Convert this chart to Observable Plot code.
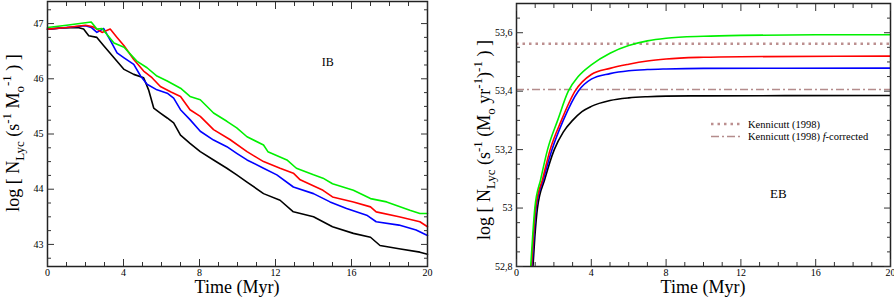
<!DOCTYPE html>
<html><head><meta charset="utf-8">
<script src="https://cdn.jsdelivr.net/npm/d3@7"></script>
<script src="https://cdn.jsdelivr.net/npm/@observablehq/plot@0.6"></script>
<style>
body{margin:0;background:#fff;}
#wrap{display:flex;width:894px;height:298px;overflow:hidden;background:#fff;}
#wrap svg{display:block;}
#wrap svg text, #wrap svg tspan{font-family:"Liberation Serif","DejaVu Serif","Times New Roman",Times,serif !important;}
</style></head><body><div id="wrap"></div>
<script>
const SERIF = "Liberation Serif, DejaVu Serif, Times New Roman, serif";

// Series colours
const seriesColors = {black: "#000000", blue: "#0000ff", red: "#ff0000", green: "#00f000"};

// ---------- IB panel (log N_Lyc per unit mass vs time) ----------
const ibBlack = [[0,46.9],[0.8,46.92],[1.6,46.93],[1.9,46.9],[2.17,46.78],[2.6,46.75],[2.96,46.6],[3.5,46.38],[4.03,46.17],[4.54,46.08],[5.06,46.02],[5.32,45.8],[5.59,45.47],[5.94,45.38],[6.3,45.29],[6.64,45.2],[7.0,44.98],[7.5,44.83],[8.04,44.68],[8.74,44.53],[9.44,44.38],[9.96,44.26],[10.5,44.13],[11.37,43.92],[12.24,43.8],[12.94,43.59],[14.0,43.5],[15.0,43.32],[16.1,43.2],[17.0,43.13],[17.5,42.98],[18.5,42.92],[19.6,42.86],[20,42.82]];
const ibBlue = [[0,46.9],[1.0,46.93],[2.0,46.96],[2.3,46.93],[2.6,46.84],[2.96,46.91],[3.3,46.7],[3.66,46.47],[4.03,46.38],[4.54,46.26],[4.9,46.05],[5.24,45.9],[5.76,45.8],[6.3,45.74],[6.64,45.65],[7.0,45.44],[7.5,45.26],[8.04,45.05],[8.74,44.89],[9.44,44.77],[9.96,44.65],[10.5,44.53],[11.37,44.38],[12.07,44.26],[12.94,44.04],[14.0,43.92],[14.87,43.77],[15.74,43.65],[16.8,43.53],[17.3,43.41],[18.5,43.35],[19.4,43.26],[20,43.16]];
const ibRed = [[0,46.9],[1.0,46.93],[2.0,46.97],[2.4,46.94],[2.87,46.84],[3.3,46.9],[3.66,46.75],[4.03,46.6],[4.54,46.35],[5.06,46.14],[5.5,46.02],[5.94,45.86],[6.5,45.76],[7.0,45.68],[7.5,45.44],[8.04,45.32],[8.74,45.08],[9.6,44.9],[10.5,44.68],[11.37,44.5],[12.24,44.38],[12.94,44.29],[13.3,44.17],[14.5,43.98],[15.0,43.86],[16.1,43.77],[17.0,43.68],[17.3,43.59],[18.5,43.5],[19.6,43.41],[20,43.32]];
const ibGreen = [[0,46.93],[1.0,46.97],[2.3,47.03],[2.6,46.9],[2.87,46.91],[3.5,46.65],[4.03,46.57],[4.7,46.32],[5.24,46.2],[5.76,46.05],[6.3,45.96],[7.0,45.83],[7.5,45.68],[8.04,45.62],[8.74,45.38],[9.44,45.23],[9.96,45.11],[10.5,44.95],[11.37,44.8],[11.6,44.68],[12.6,44.53],[13.1,44.38],[14.0,44.26],[14.5,44.2],[15.0,44.1],[16.1,43.98],[17.0,43.83],[17.85,43.77],[19.07,43.62],[19.6,43.56],[20,43.56]];

// ---------- EB panel (log N_Lyc per unit SFR vs time) ----------
const ebGreen = [[0.76,52.8],[0.86,52.9],[0.98,53.0],[1.3,53.1],[1.66,53.2],[2.2,53.3],[2.77,53.4],[3.3,53.45],[4,53.49],[5,53.53],[6,53.556],[7,53.572],[8,53.581],[10,53.588],[12,53.591],[16,53.593],[20,53.593]];
const ebRed = [[0.8,52.8],[0.9,52.9],[1.02,53.0],[1.4,53.1],[1.8,53.2],[2.4,53.3],[3.13,53.4],[4,53.457],[5,53.478],[6,53.492],[7,53.503],[8,53.51],[10,53.516],[12,53.518],[20,53.52]];
const ebBlue = [[0.83,52.8],[0.93,52.9],[1.05,53.0],[1.45,53.1],[1.9,53.2],[2.5,53.3],[3.3,53.4],[4,53.441],[5,53.46],[6,53.47],[7,53.474],[8,53.476],[10,53.478],[20,53.479]];
const ebBlack = [[0.88,52.8],[0.98,52.9],[1.12,53.0],[1.52,53.1],[2.02,53.2],[2.5,53.26],[3.0,53.3],[3.5,53.33],[4,53.348],[5,53.368],[6,53.377],[7,53.381],[8,53.383],[10,53.384],[20,53.385]];

// Reference levels (Kennicutt 1998)
const kennicutt = [53.562];
const kennicuttF = [53.406];

// Annotations
const ibNote = [{t: 14.75, v: 46.31, label: "IB"}];
const ebNote = [{t: 14.0, v: 53.05, label: "EB"}];

// Ticks
const xMajor = [0, 4, 8, 12, 16, 20];
const xMinor = d3.range(0, 21, 1).filter(d => d % 4 !== 0);
const ibYMajor = [43, 44, 45, 46, 47];
const ibYMinor = [42.75, 43.25, 43.5, 43.75, 44.25, 44.5, 44.75, 45.25, 45.5, 45.75, 46.25, 46.5, 46.75, 47.25];
const ebYMajor = [52.8, 53.0, 53.2, 53.4, 53.6];
const ebYMinor = [52.85, 52.9, 52.95, 53.05, 53.1, 53.15, 53.25, 53.3, 53.35, 53.45, 53.5, 53.55, 53.65];

const rows = (pairs) => pairs.map(([t, v]) => ({t, v}));

function tickMarks(yMaj, yMin) {
  const o = {fill: "none", stroke: "#333", strokeWidth: 1};
  return [
    Plot.axisX(xMajor, {...o, anchor: "bottom", tickSize: 7, dy: -7}),
    Plot.axisX(xMinor, {...o, anchor: "bottom", tickSize: 4, dy: -4}),
    Plot.axisX(xMajor, {...o, anchor: "top", tickSize: 7, dy: 7}),
    Plot.axisX(xMinor, {...o, anchor: "top", tickSize: 4, dy: 4}),
    Plot.axisY(yMaj, {...o, anchor: "left", tickSize: 7, dx: 7}),
    Plot.axisY(yMin, {...o, anchor: "left", tickSize: 4, dx: 4}),
    Plot.axisY(yMaj, {...o, anchor: "right", tickSize: 7, dx: -7}),
    Plot.axisY(yMin, {...o, anchor: "right", tickSize: 4, dx: -4})
  ];
}

function richText(svg, x, y, rotate, size, parts) {
  const t = d3.select(svg).append("text")
    .attr("transform", `translate(${x},${y}) rotate(${rotate})`)
    .attr("text-anchor", "middle")
    .attr("font-family", SERIF)
    .attr("font-size", size)
    .attr("fill", "black");
  let cur = 0;
  for (const [txt, shift, scale] of parts) {
    const off = shift * size;
    t.append("tspan").attr("dy", off - cur).attr("font-size", size * scale).text(txt);
    cur = off;
  }
  return t;
}

const lineOpts = (c, curve) => ({x: "t", y: "v", stroke: c, strokeWidth: 1.6, curve});
const intFmt = d => String(Math.round(d));
const commaFmt = d => String(+(+d).toFixed(1)).replace(".", ",");
const plotStyle = {fontFamily: SERIF, fontSize: "10px", background: "white", color: "black", overflow: "visible"};

// ---------- Left plot ----------
const left = Plot.plot({
  width: 444, height: 298,
  marginLeft: 47, marginRight: 17, marginTop: 1, marginBottom: 32,
  x: {domain: [0, 20]},
  y: {domain: [42.6, 47.4]},
  style: plotStyle,
  marks: [
    Plot.line(rows(ibBlack), lineOpts(seriesColors.black, "linear")),
    Plot.line(rows(ibBlue), lineOpts(seriesColors.blue, "linear")),
    Plot.line(rows(ibRed), lineOpts(seriesColors.red, "linear")),
    Plot.line(rows(ibGreen), lineOpts(seriesColors.green, "linear")),
    Plot.text(ibNote, {x: "t", y: "v", text: "label", fontSize: 12, fill: "black"}),
    Plot.frame({stroke: "#222", strokeWidth: 1.5}),
    ...tickMarks(ibYMajor, ibYMinor),
    Plot.axisX(xMajor, {anchor: "bottom", tickSize: 0, tickPadding: 2, label: null, fontSize: 10, tickFormat: intFmt}),
    Plot.axisY(ibYMajor, {anchor: "left", tickSize: 0, tickPadding: 4, label: null, fontSize: 10, tickFormat: intFmt})
  ]
});

// ---------- Right plot ----------
const right = Plot.plot({
  width: 450, height: 298,
  marginLeft: 72, marginRight: 4, marginTop: 3, marginBottom: 32,
  x: {domain: [0, 20]},
  y: {domain: [52.8, 53.7]},
  style: plotStyle,
  marks: [
    Plot.ruleY(kennicutt, {stroke: "#bc8f8f", strokeWidth: 2.5, strokeDasharray: "2.5,4"}),
    Plot.ruleY(kennicuttF, {stroke: "#b48c8c", strokeWidth: 1.5, strokeDasharray: "8,3,2,3"}),
    Plot.line(rows(ebBlack), {...lineOpts(seriesColors.black, "monotone-x"), clip: true}),
    Plot.line(rows(ebBlue), {...lineOpts(seriesColors.blue, "monotone-x"), clip: true}),
    Plot.line(rows(ebRed), {...lineOpts(seriesColors.red, "monotone-x"), clip: true}),
    Plot.line(rows(ebGreen), {...lineOpts(seriesColors.green, "monotone-x"), clip: true}),
    Plot.text(ebNote, {x: "t", y: "v", text: "label", fontSize: 13, fill: "black"}),
    Plot.frame({stroke: "#222", strokeWidth: 1.5}),
    ...tickMarks(ebYMajor, ebYMinor),
    Plot.axisX(xMajor, {anchor: "bottom", tickSize: 0, tickPadding: 2, label: null, fontSize: 10, tickFormat: intFmt}),
    Plot.axisY(ebYMajor, {anchor: "left", tickSize: 0, tickPadding: 4, label: null, fontSize: 10, tickFormat: commaFmt})
  ]
});

const wrap = document.getElementById("wrap");
wrap.appendChild(left);
wrap.appendChild(right);

// Axis titles
richText(left, 237, 293, 0, 18, [["Time (Myr)", 0, 1]]);
richText(right, 259, 293, 0, 18, [["Time (Myr)", 0, 1]]);
richText(left, 19, 133, -90, 18, [
  ["log [ N", 0, 1], ["Lyc", 0.3, 0.72], [" (s", 0, 1], ["-1", -0.45, 0.72],
  [" M", 0, 1], ["o", 0.3, 0.72], ["-1", -0.45, 0.72], [" ) ]", 0, 1]
]);
richText(right, 46, 140, -90, 18, [
  ["log [ N", 0, 1], ["Lyc", 0.3, 0.72], [" (s", 0, 1], ["-1", -0.45, 0.72],
  [" (M", 0, 1], ["o", 0.3, 0.72], [" yr", 0, 1], ["-1", -0.45, 0.72],
  [")", 0, 1], ["-1", -0.45, 0.72], [" ) ]", 0, 1]
]);

// Legend (right panel)
const lg = d3.select(right).append("g").attr("font-family", SERIF).attr("font-size", 10.5).attr("text-anchor", "start");
lg.append("line").attr("x1", 267).attr("x2", 296).attr("y1", 124).attr("y2", 124)
  .attr("stroke", "#bc8f8f").attr("stroke-width", 2.5).attr("stroke-dasharray", "2.5,4");
lg.append("text").attr("x", 304).attr("y", 127.5).attr("text-anchor", "start").text("Kennicutt (1998)");
lg.append("line").attr("x1", 267).attr("x2", 296).attr("y1", 136.5).attr("y2", 136.5)
  .attr("stroke", "#b48c8c").attr("stroke-width", 1.5).attr("stroke-dasharray", "8,3,2,3");
const t2 = lg.append("text").attr("x", 304).attr("y", 140).attr("text-anchor", "start");
t2.append("tspan").text("Kennicutt (1998) ");
t2.append("tspan").attr("font-style", "italic").text("f");
t2.append("tspan").text("-corrected");
</script>
</body></html>
